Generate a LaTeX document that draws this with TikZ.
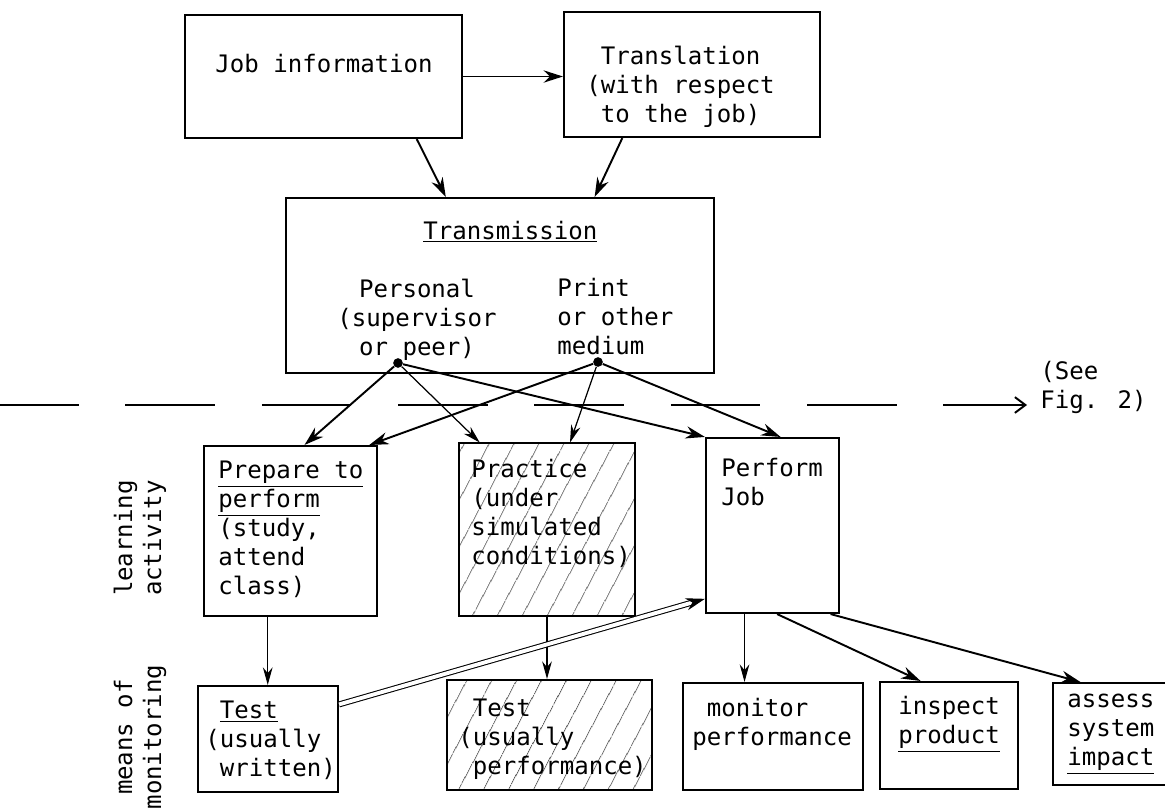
\documentclass[tikz,border=0pt]{standalone}
\usepackage{fontspec}
\newfontfamily\tw{DejaVu Sans Mono}
\usetikzlibrary{arrows.meta,calc,fit,patterns.meta}
\begin{document}
\begin{tikzpicture}[x=0.02cm,y=-0.02cm,
  box/.style={draw, line width=1.2pt, inner sep=0pt},
  hatch/.style={pattern={Lines[angle=62,distance=13pt,line width=0.5pt]}, pattern color=black!65},
  txt/.style={font=\tw\fontsize{13.7pt}{16.5pt}\selectfont, inner sep=0pt, align=left},
  lbl/.style={txt, rotate=90, align=center},
  arr/.style={-{Stealth[length=11pt,width=7pt]}, line width=1.1pt},
  tarr/.style={-{Stealth[length=10pt,width=5.5pt]}, line width=0.7pt},
  dot/.style={circle, fill, inner sep=0pt, minimum size=5.5pt},
]
\useasboundingbox (0,0) rectangle (1165,809);

% ---- boxes ----
\node[box, fit={(185,15) (462,138)}] (job) {};
\node[box, fit={(564,12) (820,137)}] (trans) {};
\node[box, fit={(286,198) (714,373)}] (tx) {};
\node[box, fit={(204,446) (377,616)}] (prep) {};
\node[box, hatch, fit={(459,443) (635,616)}] (prac) {};
\node[box, fit={(706,438) (839,613)}] (perf) {};
\node[box, fit={(198,686) (338,792)}] (test1) {};
\node[box, hatch, fit={(447,680) (652,790)}] (test2) {};
\node[box, fit={(683,683) (863,790)}] (mon) {};
\node[box, fit={(880,682) (1018,789)}] (insp) {};
\node[box, fit={(1053,683) (1180,785)}] (assess) {};

% ---- texts ----
\node[txt, anchor=base west] (job-t) at (215,72) {Job information};
\node[txt, anchor=north west] (trans-t) at (586,46) {\hphantom{x}Translation\\(with respect\\\hphantom{x}to the job)};
\node[txt, anchor=base west] (tx-t) at (423,239) {\underline{Transmission}};
\node[txt, anchor=north, align=center] (pers-t) at (417,279) {Personal\\(supervisor\\or peer)};
\node[txt, anchor=north west] (print-t) at (557,278) {Print\\or other\\medium};
\node[txt, anchor=north west] (prep-t) at (218,461) {\underline{Prepare to}\\\underline{perform}\\(study,\\attend\\class)};
\node[txt, anchor=north west] (prac-t) at (471,459) {Practice\\(under\\simulated\\conditions)};
\node[txt, anchor=north west] (perf-t) at (721,458) {Perform\\Job};
\node[txt, anchor=north west] (test1-t) at (205,701) {\hphantom{x}\underline{Test}\\(usually\\\hphantom{x}written)};
\node[txt, anchor=north west] (test2-t) at (458,699) {\hphantom{x}Test\\(usually\\\hphantom{x}performance)};
\node[txt, anchor=north west] (mon-t) at (692,698) {\hphantom{x}monitor\\performance};
\node[txt, anchor=north west] (insp-t) at (898,696) {inspect\\\underline{product}};
\node[txt, anchor=north west] (assess-t) at (1067,694) {assess\\system\\\underline{impact}};
\node[txt, anchor=north west] (see-t) at (1040,361) {(See\\Fig. 2)};
\node[lbl] (lab1) at (140,538) {learning\\activity};
\node[lbl] (lab2) at (140,737) {means of\\monitoring};

% ---- dots ----
\node[dot] (pdot) at (398,363) {};
\node[dot] (mdot) at (598,362) {};

% ---- connectors ----
\draw[arr] (job.east) -- (job.east -| trans.west);
\draw[arr] ($(job.south west)!0.834!(job.south east)$) -- ($(tx.north west)!0.374!(tx.north east)$);
\draw[arr] ($(trans.south west)!0.23!(trans.south east)$) -- ($(tx.north west)!0.72!(tx.north east)$);

\draw[arr] (pdot) -- ($(prep.north west)!0.58!(prep.north east)$);
\draw[tarr] (pdot) -- ($(prac.north west)!0.12!(prac.north east)$);
\draw[arr] (pdot) -- ($(perf.north west)!0.0!(perf.north east)$);
\draw[arr] (mdot) -- ($(prep.north west)!0.95!(prep.north east)$);
\draw[tarr] (mdot) -- ($(prac.north west)!0.63!(prac.north east)$);
\draw[arr] (mdot) -- ($(perf.north west)!0.56!(perf.north east)$);

% dashed boundary
\coordinate (dl) at (0,405);
\coordinate (dr) at (1027,405);
\draw[line width=1.1pt, dash pattern=on 51pt off 26.6pt, dash phase=6.2pt, -{Straight Barb[length=6pt,width=9pt]}] (dl) -- (dr);

\coordinate (c1) at ($(prep.south west)!0.37!(prep.south east)$);
\draw[tarr] (c1) -- (c1 |- test1.north);
\draw[tarr] (prac.south) -- (prac.south |- test2.north);
\coordinate (c2) at ($(perf.south west)!0.293!(perf.south east)$);
\draw[tarr] (c2) -- (c2 |- mon.north);
\draw[arr] ($(perf.south west)!0.534!(perf.south east)$) -- ($(insp.north west)!0.297!(insp.north east)$);
\draw[arr] ($(perf.south west)!0.93!(perf.south east)$) -- ($(assess.north west)!0.22!(assess.north east)$);
\draw[double, double distance=2.2pt, line width=0.6pt, -{Stealth[length=11pt,width=7pt]}]
  ($(test1.north east)!0.18!(test1.south east)$) -- ($(perf.north west)!0.914!(perf.south west)$);
\end{tikzpicture}
\end{document}
